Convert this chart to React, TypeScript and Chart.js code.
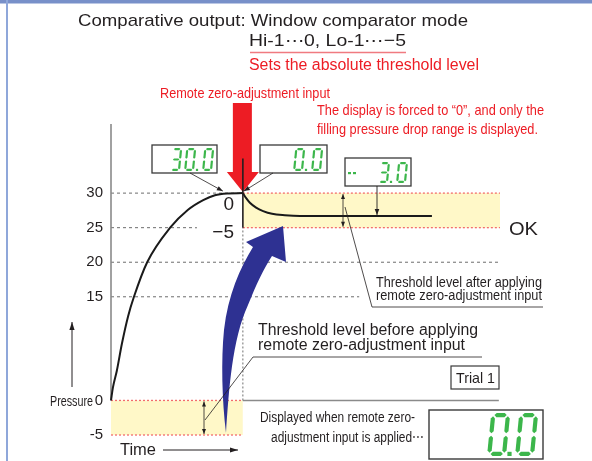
import { useEffect, useRef } from 'react';
import { Chart, registerables } from 'chart.js';

Chart.register(...registerables);

// ---- data (time in arbitrary units 0..100, pressure in kPa-like units) ----
const RISE_TIME = [0, 0.5, 1.5, 2.8, 4.4, 5.9, 9.3, 15.2, 19.8, 23.7, 26.7, 30.1, 33.9];
const RISE_PRESSURE = [0, 1.9, 4.3, 8.2, 12.2, 15, 20, 25, 27.6, 29.0, 29.7, 29.95, 30];
const DROP_TIME = [33.9, 34.7, 35.7, 37.3, 39.1, 41.4, 44.7, 48.6, 82.5];
const DROP_PRESSURE = [30, 29.3, 28.6, 27.9, 27.4, 27.0, 26.8, 26.7, 26.7];
const Y_TICKS = [30, 25, 20, 15, 0, -5];
const GRID_LEVELS = [30, 25, 20, 15];
const GRID_END_TIME = [33.9, 22.1, 99.5, 63.8];
const RESET_TIME = 33.9;
const END_TIME = 100;
const ABS_HI = 0;
const ABS_LO = -5;
const REL_HI = 30;
const REL_LO = 25;
const MARKER_TOP = 35;
const LCD_READINGS = ['30.0', '0.0', '3.0', '0.0'];

const FONT = '"Liberation Sans", Arial, Helvetica, sans-serif';
const RED = '#ed1c24';
const INK = '#231f20';
const GREEN = '#3cb64b';
const BAND = '#fff8c8';
const BAND_EDGE = '#f26d6d';
const GRID = '#6d6d6d';

const pts = (xs: number[], ys: number[]) => xs.map((x, i) => ({ x, y: ys[i] }));

function txt(ctx: CanvasRenderingContext2D, s: string, x: number, y: number, size: number, color: string, align: CanvasTextAlign = 'left', width?: number) {
  ctx.save();
  ctx.font = `${size}px ${FONT}`;
  ctx.fillStyle = color;
  ctx.textAlign = align;
  ctx.textBaseline = 'alphabetic';
  const m = ctx.measureText(s).width;
  const sx = width ? width / m : 1;
  ctx.translate(x, y);
  ctx.scale(sx, 1);
  ctx.fillText(s, 0, 0);
  ctx.restore();
}

function head(ctx: CanvasRenderingContext2D, x1: number, y1: number, x2: number, y2: number, len = 6, half = 2.3) {
  const a = Math.atan2(y2 - y1, x2 - x1);
  ctx.beginPath();
  ctx.moveTo(x2, y2);
  ctx.lineTo(x2 - len * Math.cos(a) + half * Math.sin(a), y2 - len * Math.sin(a) - half * Math.cos(a));
  ctx.lineTo(x2 - len * Math.cos(a) - half * Math.sin(a), y2 - len * Math.sin(a) + half * Math.cos(a));
  ctx.closePath();
  ctx.fill();
}

function path(ctx: CanvasRenderingContext2D, p: number[][], color: string, lw: number, endHead = false, startHead = false, hl = 6, hh = 2.3) {
  ctx.save();
  ctx.strokeStyle = color;
  ctx.fillStyle = color;
  ctx.lineWidth = lw;
  ctx.beginPath();
  ctx.moveTo(p[0][0], p[0][1]);
  for (let i = 1; i < p.length; i++) ctx.lineTo(p[i][0], p[i][1]);
  ctx.stroke();
  const n = p.length;
  if (endHead) head(ctx, p[n - 2][0], p[n - 2][1], p[n - 1][0], p[n - 1][1], hl, hh);
  if (startHead) head(ctx, p[1][0], p[1][1], p[0][0], p[0][1], hl, hh);
  ctx.restore();
}

const SEGS: Record<string, string> = {
  '0': 'abcdef', '1': 'bc', '2': 'abdeg', '3': 'abcdg', '4': 'bcfg', '5': 'acdfg',
  '6': 'acdefg', '7': 'abc', '8': 'abcdefg', '9': 'abcdfg', '-': 'g',
};

function seg7(ctx: CanvasRenderingContext2D, ch: string, x: number, bottom: number, w: number, h: number, t: number, skew: number) {
  ctx.save();
  ctx.translate(x, bottom);
  ctx.transform(1, 0, -skew, 1, 0, 0);
  ctx.fillStyle = GREEN;
  const g = t * 0.3;
  const ht = t / 2;
  const poly = (q: number[][]) => {
    ctx.beginPath();
    ctx.moveTo(q[0][0], q[0][1]);
    q.slice(1).forEach(([a, b]) => ctx.lineTo(a, b));
    ctx.closePath();
    ctx.fill();
  };
  const H = (x1: number, x2: number, yc: number) =>
    poly([[x1, yc], [x1 + ht, yc - ht], [x2 - ht, yc - ht], [x2, yc], [x2 - ht, yc + ht], [x1 + ht, yc + ht]]);
  const V = (xc: number, y1: number, y2: number) =>
    poly([[xc, y1], [xc + ht, y1 + ht], [xc + ht, y2 - ht], [xc, y2], [xc - ht, y2 - ht], [xc - ht, y1 + ht]]);
  const L = ht, R = w - ht, T = -h + ht, M = -h / 2, B = -ht;
  const s = SEGS[ch] || '';
  if (s.includes('a')) H(L + g, R - g, T);
  if (s.includes('b')) V(R, T + g, M - g);
  if (s.includes('c')) V(R, M + g, B - g);
  if (s.includes('d')) H(L + g, R - g, B);
  if (s.includes('e')) V(L, M + g, B - g);
  if (s.includes('f')) V(L, T + g, M - g);
  if (s.includes('g')) H(L + g, R - g, M);
  ctx.restore();
}

function lcd(ctx: CanvasRenderingContext2D, str: string, x: number, bottom: number, w: number, h: number, t: number, pitch: number, dotW: number, skew = 0.1) {
  let cx = x;
  for (const ch of str) {
    if (ch === '.') {
      ctx.fillStyle = GREEN;
      ctx.fillRect(cx - (pitch - w) / 2 - t / 2 + dotW / 2 - 1, bottom - t, t, t);
      cx += dotW;
    } else {
      seg7(ctx, ch, cx, bottom, w, h, t, skew);
      cx += pitch;
    }
  }
}

function box(ctx: CanvasRenderingContext2D, x: number, y: number, w: number, h: number, lw = 1.3) {
  ctx.save();
  ctx.fillStyle = '#ffffff';
  ctx.fillRect(x, y, w, h);
  ctx.strokeStyle = '#3a3a3a';
  ctx.lineWidth = lw;
  ctx.strokeRect(x, y, w, h);
  ctx.restore();
}

const decor = {
  id: 'decor',
  beforeDraw(chart: any) {
    const ctx = chart.ctx as CanvasRenderingContext2D;
    ctx.save();
    ctx.fillStyle = '#ffffff';
    ctx.fillRect(0, 0, chart.width, chart.height);
    ctx.fillStyle = '#7890c9';
    ctx.fillRect(0, 0, chart.width, 3.5);
    ctx.fillStyle = '#8fa7da';
    ctx.fillRect(6, 0, 2, chart.height);
    ctx.restore();
  },
  beforeDatasetsDraw(chart: any) {
    const ctx = chart.ctx as CanvasRenderingContext2D;
    const xs = chart.scales.x, ys = chart.scales.y;
    const tx = xs.getPixelForValue(RESET_TIME);
    const ty = ys.getPixelForValue(REL_HI);
    ctx.save();
    ctx.fillStyle = RED;
    ctx.beginPath();
    ctx.moveTo(tx - 10, 103);
    ctx.lineTo(tx + 9, 103);
    ctx.lineTo(tx + 9, 172);
    ctx.lineTo(tx + 16, 172);
    ctx.lineTo(tx, ty - 1);
    ctx.lineTo(tx - 16, 172);
    ctx.lineTo(tx - 10, 172);
    ctx.closePath();
    ctx.fill();
    ctx.restore();
  },
  afterDatasetsDraw(chart: any) {
    const ctx = chart.ctx as CanvasRenderingContext2D;
    const xs = chart.scales.x, ys = chart.scales.y;
    const tx = xs.getPixelForValue(RESET_TIME);
    const yHi = ys.getPixelForValue(REL_HI);
    const yLo = ys.getPixelForValue(REL_LO);
    const y0 = ys.getPixelForValue(ABS_HI);
    const yM5 = ys.getPixelForValue(ABS_LO);
    const yFlat = ys.getPixelForValue(DROP_PRESSURE[DROP_PRESSURE.length - 1]);

    // blue curved arrow
    ctx.save();
    ctx.fillStyle = '#2e3192';
    ctx.beginPath();
    ctx.moveTo(226, 433);
    ctx.bezierCurveTo(229, 390, 232, 340, 248, 305);
    ctx.bezierCurveTo(256, 285, 264, 268, 272, 256);
    ctx.lineTo(286, 262);
    ctx.lineTo(283, 226);
    ctx.lineTo(246, 242);
    ctx.lineTo(253, 247);
    ctx.bezierCurveTo(240, 268, 228, 295, 224, 330);
    ctx.bezierCurveTo(221, 360, 222, 400, 226, 433);
    ctx.closePath();
    ctx.fill();
    ctx.restore();

    // titles
    txt(ctx, 'Comparative output: Window comparator mode', 78, 26, 17, INK, 'left', 390);
    txt(ctx, 'Hi-1\u22EF0, Lo-1\u22EF\u22125', 249, 46, 17, INK, 'left', 157);
    path(ctx, [[250, 52.5], [406, 52.5]], '#f07a80', 1.5);
    txt(ctx, 'Sets the absolute threshold level', 249, 70, 16, RED, 'left', 230);
    txt(ctx, 'Remote zero-adjustment input', 160, 98, 14.5, RED, 'left', 170);
    txt(ctx, 'The display is forced to \u201C0\u201D, and only the', 317, 115, 14.5, RED, 'left', 227);
    txt(ctx, 'filling pressure drop range is displayed.', 317, 134, 14.5, RED, 'left', 221);

    // LCD boxes with leaders
    box(ctx, 152, 145, 65, 28);
    lcd(ctx, LCD_READINGS[0], 170, 171, 10, 23, 2.2, 14, 4);
    path(ctx, [[190, 173], [tx - 20, yHi - 2]], INK, 0.8, true);
    box(ctx, 260, 145, 67, 28);
    lcd(ctx, LCD_READINGS[1], 293, 171, 10, 23, 2.2, 14, 4);
    path(ctx, [[273, 173], [tx + 1, yHi - 2]], INK, 0.8, true);
    box(ctx, 345, 158, 66, 28);
    ctx.fillStyle = GREEN;
    ctx.fillRect(348, 172, 3, 2.2);
    ctx.fillRect(353, 172, 3, 2.2);
    lcd(ctx, LCD_READINGS[2], 378, 183, 10, 21, 2.2, 14, 4);
    path(ctx, [[377, 186], [377, yFlat - 1]], INK, 0.9, true);

    // threshold labels
    txt(ctx, '0', 234, 210, 19, INK, 'right');
    txt(ctx, '\u22125', 234, 238, 19, INK, 'right');
    txt(ctx, 'OK', 509, 235, 19, INK, 'left', 29);

    // after-threshold annotation
    path(ctx, [[343, yHi + 1], [343, yLo - 1]], INK, 0.8, true, true, 5, 2);
    path(ctx, [[345, 207], [372, 307], [543, 307]], INK, 0.8);
    txt(ctx, 'Threshold level after applying', 376, 287, 14, INK, 'left', 166);
    txt(ctx, 'remote zero-adjustment input', 376, 300, 14, INK, 'left', 166);

    // before-threshold annotation
    path(ctx, [[204, y0 + 1], [204, yM5 - 1]], INK, 0.8, true, true, 5, 2);
    path(ctx, [[205, 420], [253, 357], [482, 357]], INK, 0.8);
    txt(ctx, 'Threshold level before applying', 258, 335, 16, INK, 'left', 220);
    txt(ctx, 'remote zero-adjustment input', 258, 350, 16, INK, 'left', 207);

    // Trial 1
    box(ctx, 451, 366, 48, 23, 1.2);
    txt(ctx, 'Trial 1', 456, 383, 15, INK, 'left', 39);

    // bottom display
    txt(ctx, 'Displayed when remote zero-', 415, 422, 14, INK, 'right', 155);
    txt(ctx, 'adjustment input is applied\u22EF', 424, 442, 14, INK, 'right', 153);
    box(ctx, 429, 410, 114, 49, 1.4);
    lcd(ctx, LCD_READINGS[3], 487, 456, 19, 43, 4.2, 23, 5, 0.1);

    // axis captions
    txt(ctx, 'Time', 120, 455, 16, INK, 'left', 36);
    path(ctx, [[163, 450], [238, 450]], INK, 1, true, false, 8, 2.6);
    txt(ctx, 'Pressure', 93, 406, 14, INK, 'right', 43);
    path(ctx, [[72, 387], [72, 322]], INK, 1, true, false, 8, 2.6);
  },
};

export default function App() {
  const ref = useRef<HTMLCanvasElement | null>(null);
  useEffect(() => {
    if (!ref.current) return;
    const base = { pointRadius: 0, pointHoverRadius: 0, clip: false as any, tension: 0 };
    const dashed = (data: any[], color: string, dash: number[], width: number, order: number, extra: any = {}) => ({
      ...base, data, borderColor: color, borderDash: dash, borderWidth: width, fill: false, order, ...extra,
    });
    const gridSets = GRID_LEVELS.map((lv, i) =>
      dashed([{ x: 0, y: lv }, { x: GRID_END_TIME[i], y: lv }], GRID, [3, 3], 1, 15));
    const chart = new Chart(ref.current, {
      type: 'line',
      data: {
        datasets: [
          dashed([{ x: RESET_TIME, y: REL_HI }, { x: END_TIME, y: REL_HI }], BAND_EDGE, [2, 2], 1.3, 20,
            { fill: { value: REL_LO }, backgroundColor: BAND }),
          dashed([{ x: RESET_TIME, y: REL_LO }, { x: END_TIME, y: REL_LO }], BAND_EDGE, [2, 2], 1.3, 19),
          dashed([{ x: 0, y: ABS_HI }, { x: RESET_TIME, y: ABS_HI }], BAND_EDGE, [2, 2], 1.3, 20,
            { fill: { value: ABS_LO }, backgroundColor: BAND }),
          dashed([{ x: 0, y: ABS_LO }, { x: RESET_TIME, y: ABS_LO }], BAND_EDGE, [2, 2], 1.3, 19),
          ...gridSets,
          dashed([{ x: 0, y: 0 }, { x: 0, y: 40 }], '#8a8a8a', [], 1.6, 12),
          dashed([{ x: RESET_TIME, y: 0 }, { x: END_TIME - 0.3, y: 0 }], '#8a8a8a', [], 1.4, 12),
          dashed([{ x: RESET_TIME, y: 0 }, { x: RESET_TIME, y: REL_LO }], '#707070', [2, 2], 1, 11),
          dashed([{ x: RESET_TIME, y: REL_LO }, { x: RESET_TIME, y: MARKER_TOP }], '#231f20', [], 1.6, 1),
          dashed(pts(RISE_TIME, RISE_PRESSURE), '#1a1a1a', [], 2, 2, { cubicInterpolationMode: 'monotone' }),
          dashed(pts(DROP_TIME, DROP_PRESSURE), '#1a1a1a', [], 2, 2, { cubicInterpolationMode: 'monotone' }),
        ],
      },
      options: {
        responsive: false,
        animation: false,
        devicePixelRatio: 1,
        events: [],
        layout: { padding: { top: 124, right: 92, bottom: 26, left: 0 } },
        plugins: { legend: { display: false }, tooltip: { enabled: false }, title: { display: false } },
        scales: {
          x: { type: 'linear', min: 0, max: END_TIME, display: false },
          y: {
            type: 'linear',
            min: -5,
            max: 40,
            grid: { display: false, drawTicks: false },
            border: { display: false },
            afterFit: (s: any) => { s.width = 111; },
            afterBuildTicks: (s: any) => { s.ticks = Y_TICKS.map((v) => ({ value: v })); },
            ticks: {
              padding: 8,
              color: INK,
              font: { family: FONT, size: 15 },
              callback: (v: any) => String(v),
            },
          },
        },
      } as any,
      plugins: [decor],
    });
    return () => chart.destroy();
  }, []);
  return (
    <div style={{ position: 'fixed', left: 0, top: 0, width: 592, height: 461 }}>
      <canvas ref={ref} width={592} height={461} />
    </div>
  );
}
